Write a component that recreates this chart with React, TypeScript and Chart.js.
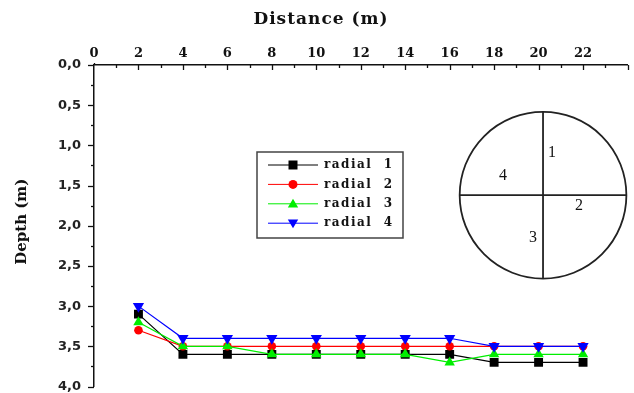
import React, { useEffect, useRef } from "react";
import { Chart, registerables } from "chart.js";

Chart.register(...registerables);

// ---- data ----
const distance = [2, 4, 6, 8, 10, 12, 14, 16, 18, 20, 22];
const radial1 = [3.1, 3.6, 3.6, 3.6, 3.6, 3.6, 3.6, 3.6, 3.7, 3.7, 3.7];
const radial2 = [3.3, 3.5, 3.5, 3.5, 3.5, 3.5, 3.5, 3.5, 3.5, 3.5, 3.5];
const radial3 = [3.2, 3.5, 3.5, 3.6, 3.6, 3.6, 3.6, 3.7, 3.6, 3.6, 3.6];
const radial4 = [3.0, 3.4, 3.4, 3.4, 3.4, 3.4, 3.4, 3.4, 3.5, 3.5, 3.5];
const seriesNames = ["radial  1", "radial  2", "radial  3", "radial  4"];
const seriesColors = ["#000000", "#ff0000", "#00ee00", "#0000ff"];
const seriesMarkers = ["rect", "circle", "triangle", "triangleDown"];
const xTitle = "Distance (m)";
const yTitle = "Depth (m)";
const quadrantLabels = ["1", "2", "3", "4"];

const X_MIN = 0;
const X_MAX = 24;
const Y_MIN = 0;
const Y_MAX = 4;

function drawMarker(ctx: CanvasRenderingContext2D, kind: string, x: number, y: number, r: number, color: string) {
  ctx.save();
  ctx.fillStyle = color;
  ctx.beginPath();
  if (kind === "rect") {
    ctx.rect(x - r, y - r, 2 * r, 2 * r);
  } else if (kind === "circle") {
    ctx.arc(x, y, r, 0, Math.PI * 2);
  } else if (kind === "triangle") {
    ctx.moveTo(x, y - r * 1.1);
    ctx.lineTo(x + r * 1.15, y + r * 0.8);
    ctx.lineTo(x - r * 1.15, y + r * 0.8);
    ctx.closePath();
  } else {
    ctx.moveTo(x, y + r * 1.1);
    ctx.lineTo(x + r * 1.15, y - r * 0.8);
    ctx.lineTo(x - r * 1.15, y - r * 0.8);
    ctx.closePath();
  }
  ctx.fill();
  ctx.restore();
}

const decorPlugin = {
  id: "decor",
  afterDraw(chart: any) {
    const ctx: CanvasRenderingContext2D = chart.ctx;
    const xs = chart.scales.x;
    const ys = chart.scales.y;
    const ca = chart.chartArea;
    ctx.save();
    // tick marks
    ctx.strokeStyle = "#111";
    ctx.lineWidth = 1.3;
    for (let v = X_MIN + 1; v <= X_MAX; v += 1) {
      const px = Math.round(xs.getPixelForValue(v)) + 0.5;
      const len = v % 2 === 0 ? 5 : 3;
      ctx.beginPath();
      ctx.moveTo(px, ca.top);
      ctx.lineTo(px, ca.top + len);
      ctx.stroke();
    }
    for (let k = 0; k <= 16; k++) {
      const v = k * 0.25;
      const py = Math.round(ys.getPixelForValue(v)) + 0.5;
      const len = k % 2 === 0 ? 6 : 3;
      ctx.beginPath();
      ctx.moveTo(ca.left, py);
      ctx.lineTo(ca.left - len, py);
      ctx.stroke();
    }
    ctx.beginPath();
    ctx.moveTo(ca.left + 0.5, ca.top);
    ctx.lineTo(ca.left + 0.5, ca.top - 2);
    ctx.stroke();

    // axis titles
    ctx.fillStyle = "#111";
    ctx.font = "bold 17px 'DejaVu Serif'";
    (ctx as any).letterSpacing = "1px";
    ctx.textAlign = "center";
    ctx.textBaseline = "middle";
    ctx.fillText(xTitle, chart.width / 2 + 4, 20);
    (ctx as any).letterSpacing = "0px";
    ctx.save();
    ctx.translate(22, (ca.top + ca.bottom) / 2 - 4);
    ctx.rotate(-Math.PI / 2);
    ctx.font = "bold 15px 'DejaVu Serif'";
    ctx.fillText(yTitle, 0, 0);
    ctx.restore();

    // legend box
    const lx = ca.left + 163;
    const ly = ca.top + 87;
    const lw = 146;
    const lh = 86;
    ctx.strokeStyle = "#444";
    ctx.lineWidth = 1.5;
    ctx.beginPath();
    ctx.rect(lx, ly, lw, lh);
    ctx.stroke();
    for (let i = 0; i < seriesNames.length; i++) {
      const ry = ly + 13 + i * 19.4;
      ctx.strokeStyle = seriesColors[i];
      ctx.lineWidth = 1;
      ctx.beginPath();
      ctx.moveTo(lx + 11, ry);
      ctx.lineTo(lx + 61, ry);
      ctx.stroke();
      drawMarker(ctx, seriesMarkers[i], lx + 36, ry, 4.5, seriesColors[i]);
      ctx.fillStyle = "#111";
      ctx.font = "bold 12px 'DejaVu Serif'";
      (ctx as any).letterSpacing = "1.5px";
      ctx.textAlign = "left";
      ctx.textBaseline = "middle";
      ctx.fillText(seriesNames[i], lx + 67, ry);
      (ctx as any).letterSpacing = "0px";
    }

    // inset circle diagram (in data units)
    const cX = 20.2;
    const cY = 1.62;
    const rX = 3.75;
    const cx = xs.getPixelForValue(cX);
    const cy = ys.getPixelForValue(cY);
    const r = xs.getPixelForValue(cX + rX) - cx;
    ctx.strokeStyle = "#222";
    ctx.lineWidth = 1.8;
    ctx.beginPath();
    ctx.arc(cx, cy, r, 0, Math.PI * 2);
    ctx.stroke();
    ctx.beginPath();
    ctx.moveTo(cx - r, cy);
    ctx.lineTo(cx + r, cy);
    ctx.moveTo(cx, cy - r);
    ctx.lineTo(cx, cy + r);
    ctx.stroke();
    ctx.fillStyle = "#111";
    ctx.font = "16px 'Liberation Serif'";
    ctx.textAlign = "center";
    ctx.textBaseline = "middle";
    const offs = [
      [9, -42],
      [36, 11],
      [-10, 43],
      [-40, -19],
    ];
    for (let i = 0; i < quadrantLabels.length; i++) {
      ctx.fillText(quadrantLabels[i], cx + offs[i][0], cy + offs[i][1]);
    }
    ctx.restore();
  },
};

export default function App() {
  const ref = useRef<HTMLCanvasElement | null>(null);
  useEffect(() => {
    if (!ref.current) return;
    const series = [radial1, radial2, radial3, radial4];
    const styles: any[] = ["rect", "circle", "triangle", "triangle"];
    const rotations = [0, 0, 0, 180];
    const radii = [6.3, 4.3, 6, 6.5];
    const chart = new Chart(ref.current, {
      type: "line",
      data: {
        datasets: series.map((vals, i) => ({
          label: seriesNames[i],
          data: distance.map((x, j) => ({ x, y: vals[j] })),
          borderColor: seriesColors[i],
          backgroundColor: seriesColors[i],
          borderWidth: 1.2,
          pointStyle: styles[i],
          rotation: rotations[i],
          pointRadius: radii[i],
          pointBorderWidth: 0,
          pointBackgroundColor: seriesColors[i],
          tension: 0,
          order: 4 - i,
        })),
      },
      options: {
        responsive: false,
        animation: false,
        events: [],
        layout: { padding: { left: 0, top: 0, right: 1, bottom: 3 } },
        plugins: { legend: { display: false }, tooltip: { enabled: false } },
        scales: {
          x: {
            type: "linear",
            position: "top",
            min: X_MIN,
            max: X_MAX,
            grid: { display: false, drawTicks: false },
            border: { display: true, color: "#111", width: 1.5 },
            ticks: {
              stepSize: 1,
              autoSkip: false,
              maxRotation: 0,
              padding: 4,
              color: "#111",
              font: { family: "'DejaVu Serif'", weight: "bold", size: 13 },
              callback: (v: any) => (Number(v) % 2 === 0 && Number(v) < X_MAX ? String(v) : ""),
            },
            afterFit: (s: any) => {
              s.height = 65;
              s.paddingLeft = 0;
              s.paddingRight = 0;
            },
          },
          y: {
            type: "linear",
            position: "left",
            reverse: true,
            min: Y_MIN,
            max: Y_MAX,
            grid: { display: false, drawTicks: false },
            border: { display: true, color: "#111", width: 1.5 },
            ticks: {
              stepSize: 0.25,
              autoSkip: false,
              padding: 13,
              color: "#222",
              font: { family: "'DejaVu Sans'", weight: "bold", size: 13 },
              callback: (v: any) => {
                const n = Number(v);
                return Math.abs(n * 2 - Math.round(n * 2)) < 1e-9 ? n.toFixed(1).replace(".", ",") : "";
              },
            },
            afterFit: (s: any) => {
              s.width = 94;
              s.paddingTop = 0;
              s.paddingBottom = 0;
            },
          },
        },
      } as any,
      plugins: [decorPlugin],
    });
    return () => chart.destroy();
  }, []);
  return (
    <div style={{ position: "fixed", left: 0, top: 0, width: 634, height: 393, background: "#fff" }}>
      <canvas ref={ref} width={634} height={393} style={{ display: "block" }} />
    </div>
  );
}
